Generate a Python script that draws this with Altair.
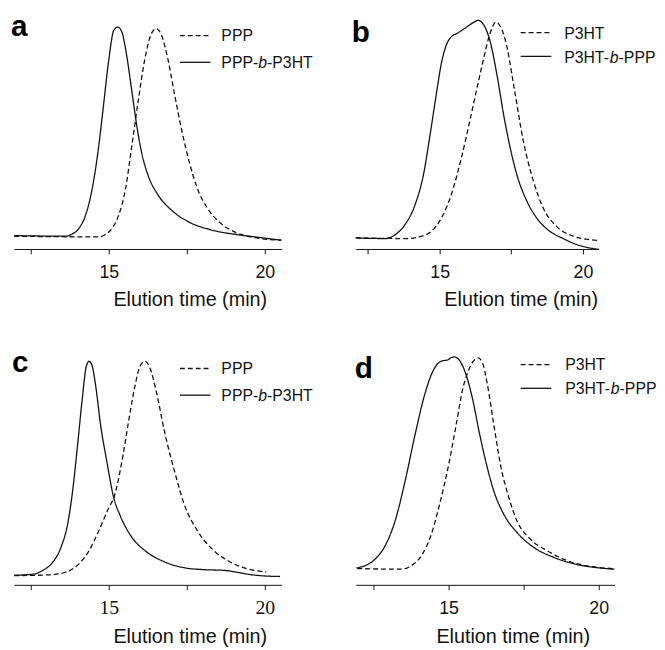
import altair as alt
import pandas as pd

# ---------------- data (elution time in min, normalised detector signal) ----------------
# panel a
a_ppp_t = [11.97, 14.68, 14.89, 15.11, 15.32, 15.53, 15.74, 15.95, 16.16, 16.37, 16.53, 16.68, 16.89, 17.11, 17.32, 17.58, 17.84, 18.16, 18.58, 19.11, 19.74, 20.53]
a_ppp_v = [0.0, -0.003, 0.008, 0.039, 0.102, 0.220, 0.433, 0.654, 0.850, 0.970, 0.992, 0.965, 0.850, 0.677, 0.520, 0.354, 0.228, 0.134, 0.063, 0.016, -0.008, -0.019]
a_blk_t = [11.97, 13.63, 13.79, 14.05, 14.26, 14.47, 14.68, 14.84, 15.00, 15.16, 15.29, 15.42, 15.58, 15.74, 15.89, 16.05, 16.26, 16.58, 17.00, 17.53, 18.26, 19.10, 19.95, 20.53]
a_blk_v = [0.003, 0.0, 0.008, 0.039, 0.102, 0.228, 0.433, 0.638, 0.843, 0.984, 1.0, 0.976, 0.858, 0.693, 0.535, 0.402, 0.291, 0.197, 0.126, 0.071, 0.031, 0.008, -0.008, -0.019]

# panel b
b_p3ht_t = [12.07, 13.82, 14.37, 14.71, 15.06, 15.40, 15.75, 16.09, 16.38, 16.55, 16.72, 16.84, 16.95, 17.13, 17.36, 17.59, 17.93, 18.28, 18.62, 19.08, 19.66, 20.23, 20.55]
b_p3ht_v = [0.0, -0.003, 0.008, 0.030, 0.091, 0.197, 0.364, 0.561, 0.735, 0.833, 0.924, 0.970, 0.992, 0.970, 0.871, 0.697, 0.439, 0.258, 0.136, 0.053, 0.008, -0.008, -0.012]
b_blk_t = [12.07, 13.10, 13.45, 13.79, 14.14, 14.43, 14.66, 14.89, 15.06, 15.23, 15.40, 15.63, 15.86, 16.15, 16.34, 16.55, 16.78, 17.01, 17.24, 17.47, 17.70, 18.05, 18.39, 18.85, 19.31, 19.77, 20.55]
b_blk_v = [0.0, -0.003, 0.015, 0.061, 0.152, 0.288, 0.470, 0.667, 0.803, 0.886, 0.924, 0.942, 0.962, 0.988, 1.0, 0.977, 0.894, 0.742, 0.561, 0.409, 0.288, 0.167, 0.091, 0.030, -0.003, -0.030, -0.053]

# panel c
c_ppp_t = [11.97, 13.11, 13.63, 14.05, 14.37, 14.68, 15.00, 15.16, 15.42, 15.63, 15.84, 16.00, 16.16, 16.32, 16.53, 16.79, 17.11, 17.42, 17.84, 18.37, 18.89, 19.42, 20.05]
c_ppp_v = [-0.002, 0.002, 0.015, 0.054, 0.115, 0.208, 0.315, 0.362, 0.531, 0.715, 0.885, 0.977, 1.0, 0.969, 0.854, 0.669, 0.485, 0.331, 0.208, 0.115, 0.062, 0.031, 0.015]
c_blk_t = [11.97, 12.58, 12.89, 13.21, 13.47, 13.68, 13.84, 14.00, 14.16, 14.28, 14.37, 14.47, 14.58, 14.74, 14.92, 15.16, 15.37, 15.74, 16.16, 16.79, 17.42, 18.05, 18.68, 19.11, 19.53, 19.95, 20.49]
c_blk_v = [0.0, 0.005, 0.023, 0.062, 0.131, 0.238, 0.392, 0.608, 0.838, 0.977, 1.0, 0.977, 0.885, 0.700, 0.546, 0.362, 0.277, 0.177, 0.115, 0.062, 0.035, 0.026, 0.023, 0.014, 0.003, -0.003, -0.006]

# panel d
d_p3ht_t = [11.96, 13.44, 13.77, 14.10, 14.43, 14.70, 14.98, 15.25, 15.47, 15.64, 15.80, 15.99, 16.13, 16.29, 16.51, 16.73, 17.01, 17.28, 17.72, 18.27, 18.93, 19.69, 20.51]
d_p3ht_v = [-0.003, -0.006, 0.012, 0.059, 0.161, 0.301, 0.473, 0.676, 0.848, 0.927, 0.975, 0.995, 0.972, 0.871, 0.676, 0.488, 0.332, 0.223, 0.137, 0.083, 0.036, 0.008, -0.003]
d_blk_t = [11.93, 12.24, 12.57, 12.89, 13.22, 13.55, 13.88, 14.21, 14.43, 14.65, 14.81, 14.96, 15.09, 15.18, 15.31, 15.58, 15.80, 16.02, 16.24, 16.51, 16.84, 17.28, 17.83, 18.49, 19.25, 19.91, 20.52]
d_blk_v = [0.0, 0.012, 0.044, 0.106, 0.223, 0.410, 0.629, 0.824, 0.917, 0.970, 0.982, 0.985, 0.997, 1.0, 0.992, 0.917, 0.800, 0.644, 0.504, 0.363, 0.254, 0.168, 0.098, 0.051, 0.017, 0.002, -0.006]

x_ticks = [12.5, 15, 17.5, 20]
x_title = "Elution time (min)"

SANS = "Liberation Sans"
SERIF = "Liberation Serif"
INK = "#111111"
DASH = [5, 3]
dummy = pd.DataFrame({"k": [0]})


def frame(name_dash, t_dash, v_dash, name_solid, t_solid, v_solid):
    d1 = pd.DataFrame({"t": t_dash, "v": v_dash, "s": name_dash})
    d2 = pd.DataFrame({"t": t_solid, "v": v_solid, "s": name_solid})
    return pd.concat([d1, d2], ignore_index=True)


def panel(df, name_dash, name_solid, xdom, ydom, width, height, letter, lpos,
          leg, tick_font, tick_size, title_x, title_y, label_pad):
    axis = alt.Axis(
        values=x_ticks,
        labelExpr="datum.value % 5 === 0 ? datum.label : ''",
        grid=False, tickSize=5, tickColor=INK, domainColor=INK,
        domainWidth=1, tickWidth=1,
        labelFont=tick_font, labelFontSize=tick_size, labelColor=INK,
        labelBaseline="alphabetic", labelPadding=label_pad,
        labelFlush=False, labelOverlap=False,
        title=x_title, titleFont=SANS, titleFontSize=20, titleFontWeight="normal",
        titleColor=INK, titleX=title_x, titleY=title_y, titleAlign="center",
        titleBaseline="alphabetic",
    )
    lines = alt.Chart(df).mark_line(interpolate="monotone", strokeWidth=1.3, color=INK).encode(
        x=alt.X("t:Q", scale=alt.Scale(domain=xdom, nice=False, zero=False), axis=axis),
        y=alt.Y("v:Q", scale=alt.Scale(domain=ydom, nice=False, zero=False), axis=None),
        strokeDash=alt.StrokeDash("s:N", scale=alt.Scale(domain=[name_dash, name_solid], range=[DASH, [1, 0]]), legend=None),
        detail="s:N",
    )
    base = alt.Chart(dummy)
    lab = base.mark_text(align="left", baseline="alphabetic", font=SANS, fontSize=30,
                         fontWeight="bold", color="#000000").encode(
        x=alt.value(lpos[0]), y=alt.value(lpos[1]), text=alt.value(letter))
    lx1, lx2, ly1, ly2, tx, tb1, tb2, parts = leg
    r1 = base.mark_rule(strokeDash=DASH, strokeWidth=1.3, color=INK).encode(
        x=alt.value(lx1), x2=alt.value(lx2), y=alt.value(ly1))
    r2 = base.mark_rule(strokeWidth=1.3, color=INK).encode(
        x=alt.value(lx1), x2=alt.value(lx2), y=alt.value(ly2))
    txt = dict(align="left", baseline="alphabetic", font=SANS, fontSize=16, color=INK)
    t1 = base.mark_text(**txt).encode(x=alt.value(tx), y=alt.value(tb1), text=alt.value(name_dash))
    p1, p2, p3 = parts
    w1 = 16 * {"PPP-": 2.334, "P3HT-": 2.889}[p1]
    w2 = 16 * 0.556
    t2a = base.mark_text(**txt).encode(x=alt.value(tx), y=alt.value(tb2), text=alt.value(p1))
    t2b = base.mark_text(fontStyle="italic", **txt).encode(x=alt.value(tx + w1), y=alt.value(tb2), text=alt.value(p2))
    t2c = base.mark_text(**txt).encode(x=alt.value(tx + w1 + w2), y=alt.value(tb2), text=alt.value(p3))
    return alt.layer(lines, lab, r1, r2, t1, t2a, t2b, t2c).properties(width=width, height=height)


df_a = frame("PPP", a_ppp_t, a_ppp_v, "PPP-b-P3HT", a_blk_t, a_blk_v)
df_b = frame("P3HT", b_p3ht_t, b_p3ht_v, "P3HT-b-PPP", b_blk_t, b_blk_v)
df_c = frame("PPP", c_ppp_t, c_ppp_v, "PPP-b-P3HT", c_blk_t, c_blk_v)
df_d = frame("P3HT", d_p3ht_t, d_p3ht_v, "P3HT-b-PPP", d_blk_t, d_blk_v)

pa = panel(df_a, "PPP", "PPP-b-P3HT", [11.96, 20.54], [-0.061, 1.063], 271, 238, "a", (-3, 22),
           (168, 199, 22, 49, 210, 27, 55, ("PPP-", "b", "-P3HT")), SANS, 18, 178, 57, 24)
pb = panel(df_b, "P3HT", "P3HT-b-PPP", [12.069, 20.552], [-0.051, 1.030], 246, 238, "b", (-4, 28),
           (167, 198, 19, 43, 211, 25, 50, ("P3HT-", "b", "-PPP")), SANS, 18, 167, 57, 24)
pc = panel(df_c, "PPP", "PPP-b-P3HT", [11.96, 20.54], [-0.045, 1.054], 271, 238, "c", (-2, 23),
           (168, 199, 19, 46, 210, 25, 52, ("PPP-", "b", "-P3HT")), SERIF, 20, 178, 58, 24)
pd_ = panel(df_d, "P3HT", "P3HT-b-PPP", [11.908, 20.526], [-0.080, 1.034], 262, 238, "d", (-1, 29),
            (167, 198, 15, 39, 212, 21, 45, ("P3HT-", "b", "-PPP")), SANS, 18, 159, 58, 24)

chart = alt.concat(
    pa, pb, pc, pd_, columns=2, bounds="flush",
    spacing=alt.RowColnumber(row=102, column=75),
).properties(
    padding={"left": 3, "top": 0, "right": 0, "bottom": 0},
    background="white",
).configure_view(strokeWidth=0, strokeOpacity=0)

chart.save("out.html", embed_options={"renderer": "svg", "actions": False})
